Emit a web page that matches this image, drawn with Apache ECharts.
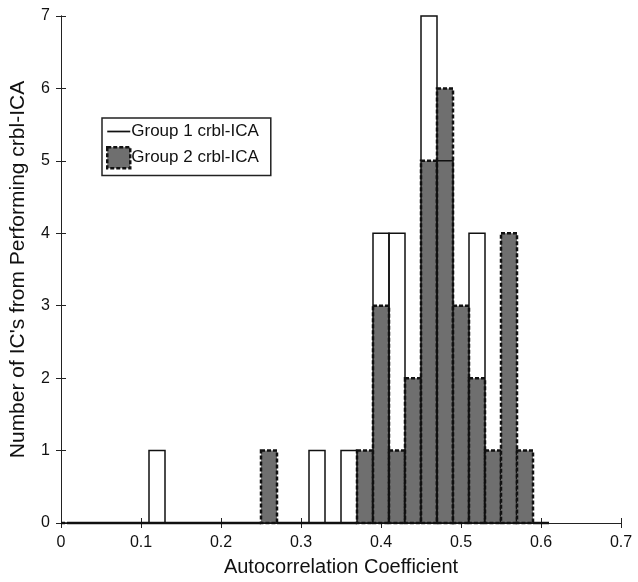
<!DOCTYPE html>
<html>
<head>
<meta charset="utf-8">
<script src="https://cdn.jsdelivr.net/npm/echarts@6/dist/echarts.min.js"></script>
<style>html,body{margin:0;padding:0;background:#fff;}#c{width:638px;height:582px;}</style>
</head>
<body>
<div id="c"></div>
<script>
var binCenters = [0.00,0.02,0.04,0.06,0.08,0.10,0.12,0.14,0.16,0.18,0.20,0.22,0.24,0.26,0.28,0.30,0.32,0.34,0.36,0.38,0.40,0.42,0.44,0.46,0.48,0.50,0.52,0.54,0.56,0.58,0.60];
var group1Counts = [0,0,0,0,0,0,1,0,0,0,0,0,0,0,0,0,1,0,1,0,4,4,0,7,5,0,4,0,0,0,0];
var group2Counts = [0,0,0,0,0,0,0,0,0,0,0,0,0,1,0,0,0,0,0,1,3,1,2,5,6,3,2,1,4,1,0];
var xTicks = [0,0.1,0.2,0.3,0.4,0.5,0.6,0.7];
var yTicks = [0,1,2,3,4,5,6,7];
var group1Name = 'Group 1 crbl-ICA';
var group2Name = 'Group 2 crbl-ICA';

var FONT = 'Liberation Sans, Arial, Helvetica, sans-serif';
var HALF = 0.01;
var GRAY = '#6f6f6f';

function pairs(vals){ return binCenters.map(function(c,i){ return [c, vals[i]]; }); }

function makeRender(style){
  return function(params, api){
    var x = api.value(0), y = api.value(1);
    var xl = Math.max(x - HALF, xTicks[0]);
    var p0 = api.coord([xl, y]);
    var p1 = api.coord([x + HALF, 0]);
    return {
      type: 'rect',
      shape: { x: p0[0], y: p0[1], width: p1[0]-p0[0], height: p1[1]-p0[1] },
      style: style
    };
  };
}

var chart = echarts.init(document.getElementById('c'), null, {renderer:'canvas'});
var axisLine = { show:true, lineStyle:{ color:'#222', width:1 } };
chart.setOption({
  animation:false,
  backgroundColor:'#fff',
  grid:{ left:60, right:17, top:16, bottom:56, containLabel:false },
  legend:{
    orient:'vertical', left:102, top:118,
    backgroundColor:'#fff', borderColor:'#222', borderWidth:1.5,
    padding:[5,12,6,4], itemGap:6, itemWidth:23, itemHeight:21,
    textStyle:{ fontFamily:FONT, fontSize:17, color:'#111', padding:[0,0,0,-4] },
    data:[
      { name: group1Name, icon:'path://M0,0H24V1.8H0Z', itemStyle:{ color:'#111', borderWidth:0 } },
      { name: group2Name, icon:'rect', itemStyle:{ color:GRAY, borderColor:'#111', borderWidth:2.5, borderType:[4,2] } }
    ]
  },
  xAxis:[{
    type:'value', min:0, max:0.7, interval:0.1,
    name:'Autocorrelation Coefficient', nameLocation:'middle', nameGap:34,
    nameTextStyle:{ fontFamily:FONT, fontSize:20, color:'#111' },
    axisLine:axisLine,
    axisTick:{ show:true, inside:true, length:5, lineStyle:{ color:'#222' } },
    axisLabel:{ fontFamily:FONT, fontSize:16, color:'#111', margin:12,
      formatter:function(v){ return String(v); } },
    splitLine:{ show:false }
  },{
    type:'value', position:'top', min:0, max:0.7, interval:0.1,
    axisLine:axisLine,
    axisTick:{ show:true, inside:true, length:5, lineStyle:{ color:'#222' } },
    axisLabel:{ show:false }, splitLine:{ show:false }
  }],
  yAxis:[{
    type:'value', min:0, max:7, interval:1,
    name:"Number of IC's from Performing crbl-ICA", nameLocation:'middle', nameGap:32,
    nameTextStyle:{ fontFamily:FONT, fontSize:21, color:'#111' },
    axisLine:axisLine,
    axisTick:{ show:true, inside:true, length:5, lineStyle:{ color:'#222' } },
    axisLabel:{ fontFamily:FONT, fontSize:16, color:'#111', margin:11 },
    splitLine:{ show:false }
  },{
    type:'value', position:'right', min:0, max:7, interval:1,
    axisLine:axisLine,
    axisTick:{ show:true, inside:true, length:5, lineStyle:{ color:'#222' } },
    axisLabel:{ show:false }, splitLine:{ show:false }
  }],
  series:[
    {
      name: group2Name, type:'custom', xAxisIndex:0, yAxisIndex:0, z:2,
      renderItem: makeRender({ fill:GRAY, stroke:'#111', lineWidth:2.5, lineDash:[4,2] }),
      data: pairs(group2Counts),
      itemStyle:{ color:GRAY, borderColor:'#111', borderWidth:2.5, borderType:[4,2] }
    },
    {
      name: group1Name, type:'custom', xAxisIndex:0, yAxisIndex:0, z:3,
      renderItem: makeRender({ fill:'none', stroke:'#111', lineWidth:1.5 }),
      data: pairs(group1Counts),
      itemStyle:{ color:'#111' }
    }
  ]
});
</script>
</body>
</html>
